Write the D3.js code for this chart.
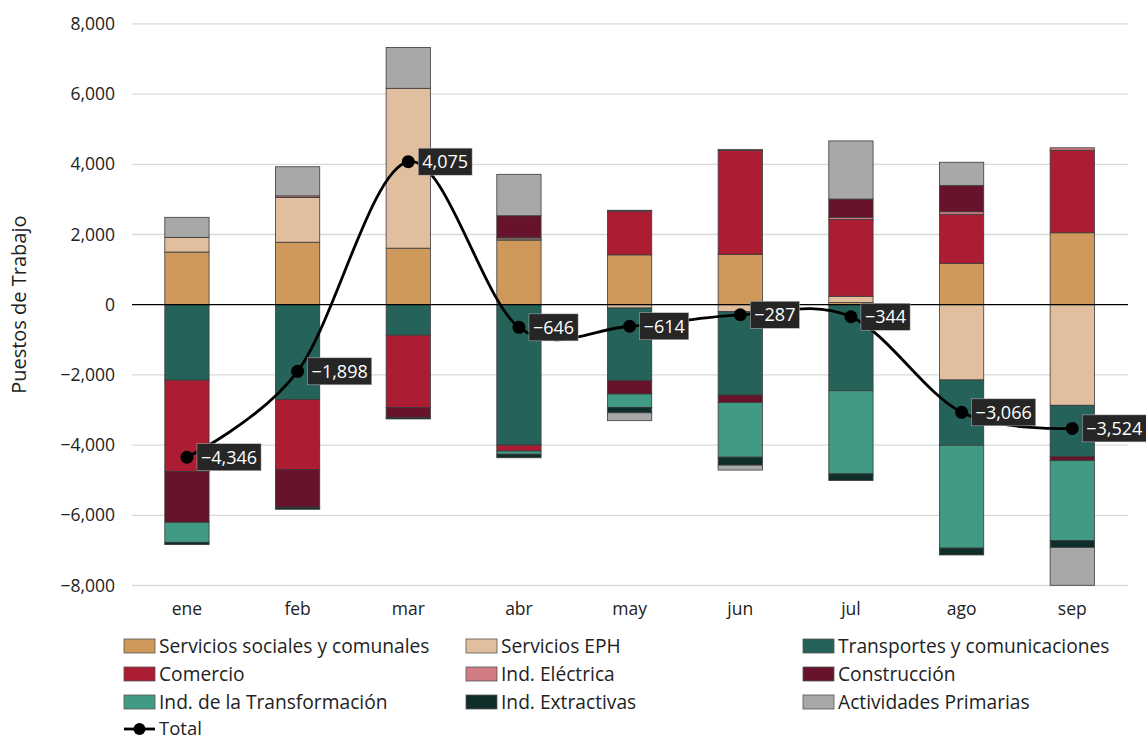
<!DOCTYPE html>
<html><head><meta charset="utf-8">
<script src="https://cdn.jsdelivr.net/npm/d3@7"></script>
<style>
body{margin:0;background:#fff;}
text{font-family:"Open Sans","Noto Sans",sans-serif;}
</style></head>
<body><svg id="c" width="1146" height="740"></svg>
<script>
const months = ["ene","feb","mar","abr","may","jun","jul","ago","sep"];
const seriesNames = ["Servicios sociales y comunales","Servicios EPH","Transportes y comunicaciones","Comercio","Ind. Eléctrica","Construcción","Ind. de la Transformación","Ind. Extractivas","Actividades Primarias"];
const seriesColors = ["#CF995B","#E0BE9E","#25625A","#AC1C32","#D07C82","#66132B","#419A84","#0F2E29","#A8A8A8"];
const serviciosSociales = [1500,1780,1610,1840,1420,1435,60,1180,2050];
const serviciosEPH     = [420,1275,4555,35,-95,-200,180,-2145,-2866];
const transportes      = [-2150,-2705,-870,-4000,-2070,-2375,-2450,-1860,-1464];
const comercio         = [-2600,-1990,-2060,-170,1245,2960,2190,1395,2350];
const indElectrica     = [0,45,0,40,25,30,60,75,70];
const construccion     = [-1450,-1075,-285,620,-380,-210,520,750,-114];
const indTransformacion= [-570,0,0,-90,-380,-1559,-2370,-2930,-2280];
const indExtractivas   = [-66,-58,-40,-101,-155,-228,-190,-195,-190];
const actPrimarias     = [570,830,1165,1180,-224,-140,1656,659,-1080];
const total            = [-4346,-1898,4075,-646,-614,-287,-344,-3066,-3524];
const yTicks = [-8000,-6000,-4000,-2000,0,2000,4000,6000,8000];

const seriesValues = [serviciosSociales,serviciosEPH,transportes,comercio,indElectrica,construccion,indTransformacion,indExtractivas,actPrimarias];

const FONT = "'Open Sans', 'Noto Sans', sans-serif";
const svg = d3.select("#c");
const x = d3.scaleBand().domain(months).range([131.6,1127.6]).paddingInner(0.6).paddingOuter(0.3);
const y = d3.scaleLinear().domain([-8000,8000]).range([585.5,23.9]);
const fmt = d3.format(",");

// gridlines
svg.append("g").selectAll("line").data(yTicks.filter(d=>d!==0)).join("line")
  .attr("x1",132).attr("x2",1128).attr("y1",d=>y(d)).attr("y2",d=>y(d))
  .attr("stroke","#d9d9d9").attr("stroke-width",1.3);

// y axis labels
const yAxis = d3.axisLeft(y).tickValues(yTicks).tickFormat(fmt).tickSize(0).tickPadding(0);
const ga = svg.append("g").attr("transform","translate(115,0)").call(yAxis);
ga.select(".domain").remove();
ga.selectAll("text").attr("font-size",17.5).attr("fill","#222").style("font-family",FONT);

svg.append("text").attr("transform",`translate(26,${y(0)}) rotate(-90)`)
  .attr("text-anchor","middle").attr("font-size",20).attr("fill","#222").text("Puestos de Trabajo");

// x labels
const xAxis = d3.axisBottom(x).tickSize(0).tickPadding(0);
const gx = svg.append("g").attr("transform","translate(0,615)").call(xAxis);
gx.select(".domain").remove();
gx.selectAll("text").attr("font-size",17.5).attr("fill","#222").attr("dy",0).style("font-family",FONT);

// stacked bars (diverging)
const rects = [];
months.forEach((m,i)=>{
  let pos=0, neg=0;
  seriesValues.forEach((arr,s)=>{
    const v = arr[i];
    if(v===0) return;
    let y0,y1;
    if(v>0){y0=pos;y1=pos+v;pos=y1;} else {y0=neg;y1=neg+v;neg=y1;}
    rects.push({m,s,y0,y1});
  });
});
svg.append("g").selectAll("rect").data(rects).join("rect")
  .attr("x",d=>x(d.m)).attr("width",x.bandwidth())
  .attr("y",d=>y(Math.max(d.y0,d.y1))).attr("height",d=>Math.abs(y(d.y0)-y(d.y1)))
  .attr("fill",d=>seriesColors[d.s]).attr("stroke","#3a3a3a").attr("stroke-width",0.8);

// zero line
svg.append("line").attr("x1",132).attr("x2",1128).attr("y1",y(0)).attr("y2",y(0))
  .attr("stroke","#000").attr("stroke-width",1.3);

// total line
const cx = d=>x(d)+x.bandwidth()/2;
const line = d3.line().x((d,i)=>cx(months[i])).y(d=>y(d)).curve(d3.curveCatmullRom.alpha(0));
svg.append("path").datum(total).attr("d",line).attr("fill","none").attr("stroke","#000").attr("stroke-width",2.8);
svg.append("g").selectAll("circle").data(total).join("circle")
  .attr("cx",(d,i)=>cx(months[i])).attr("cy",d=>y(d)).attr("r",6.5).attr("fill","#000");

// labels
const lg = svg.append("g");
total.forEach((v,i)=>{
  const g = lg.append("g").attr("transform",`translate(${cx(months[i])+10},${y(v)})`);
  const r = g.append("rect").attr("fill","#262626").attr("stroke","#bbb").attr("stroke-width",0.5);
  const t = g.append("text").attr("x",4).attr("y",6.5).attr("font-size",18).attr("fill","#fff").text(fmt(v));
  const w = t.node().getComputedTextLength();
  r.attr("x",0).attr("y",-13.5).attr("width",w+8).attr("height",27);
});

// legend
const legCols = [124,466,803];
const legRows = [646,674,702];
const leg = svg.append("g");
seriesNames.forEach((n,s)=>{
  const col = s%3, row = Math.floor(s/3);
  const g = leg.append("g").attr("transform",`translate(${legCols[col]},${legRows[row]})`);
  g.append("rect").attr("x",0).attr("y",-7).attr("width",31).attr("height",14)
    .attr("fill",seriesColors[s]).attr("stroke","#555").attr("stroke-width",0.8);
  g.append("text").attr("x",35).attr("y",6.5).attr("font-size",19.2).attr("fill","#222").text(n);
});
const gt = leg.append("g").attr("transform","translate(124,729)");
gt.append("line").attr("x1",0).attr("x2",31).attr("y1",0).attr("y2",0).attr("stroke","#000").attr("stroke-width",2.8);
gt.append("circle").attr("cx",15.5).attr("cy",0).attr("r",6).attr("fill","#000");
gt.append("text").attr("x",35).attr("y",5.5).attr("font-size",18.5).attr("fill","#222").text("Total");
</script></body></html>
